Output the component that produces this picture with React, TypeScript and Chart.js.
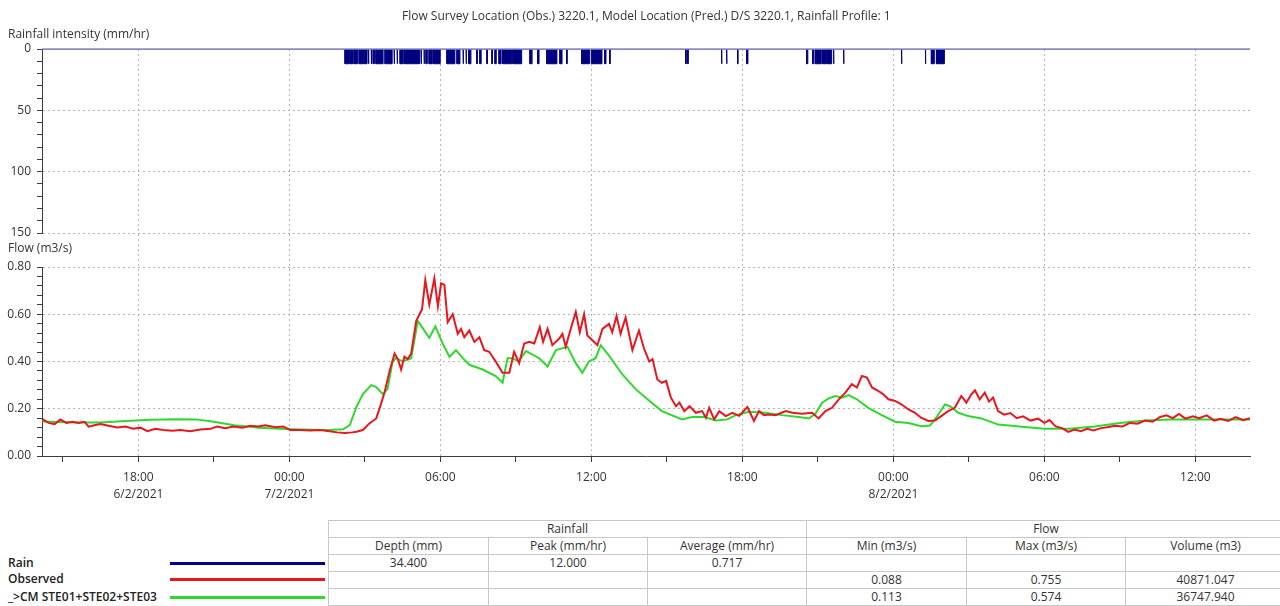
import React, { useEffect, useRef } from "react";
import { Chart, registerables } from "chart.js";

Chart.register(...registerables);
Chart.defaults.font.family = "'Open Sans', sans-serif";
Chart.defaults.font.size = 12;
Chart.defaults.color = "#333";

// Time axis: hours since 6/2/2021 00:00
const xMin = 14.17;
const xMax = 62.17;
const xTickValues = [15, 18, 21, 24, 27, 30, 33, 36, 39, 42, 45, 48, 51, 54, 57, 60];
const xTickLabels: (string | string[])[] = [
  "", ["18:00", "6/2/2021"], "", ["00:00", "7/2/2021"], "", "06:00", "", "12:00",
  "", "18:00", "", ["00:00", "8/2/2021"], "", "06:00", "", "12:00",
];

const rainTickValues = [0, 10, 20, 30, 40, 50, 60, 70, 80, 90, 100, 110, 120, 130, 140, 150];
const rainTickLabels = ["0", "", "", "", "", "50", "", "", "", "", "100", "", "", "", "", "150"];

const flowTickValues = [0, 0.04, 0.08, 0.12, 0.16, 0.2, 0.24, 0.28, 0.32, 0.36, 0.4, 0.44, 0.48, 0.52, 0.56, 0.6, 0.64, 0.68, 0.72, 0.76, 0.8];
const flowTickLabels = ["0.00", "", "", "", "", "0.20", "", "", "", "", "0.40", "", "", "", "", "0.60", "", "", "", "", "0.80"];

// Rainfall: start (hours since 6/2 00:00), duration (minutes), intensity (mm/hr)
const rainStart = [
  26.21, 26.41, 26.57, 26.77, 26.97, 27.13, 27.25, 27.33, 27.44, 27.80,
  28.16, 28.28, 28.40, 28.56, 29.11, 29.23, 29.35, 29.43, 29.55, 29.71,
  30.26, 30.66, 30.90, 31.02, 31.13, 31.45, 31.57, 31.85, 32.05, 32.17,
  32.33, 32.48, 32.88, 33.56, 33.87, 34.23, 34.75, 35.02, 35.62, 36.02,
  36.53, 36.73, 39.75, 39.83, 41.17, 41.37, 41.81, 42.17, 44.55, 44.79,
  44.90, 45.18, 45.38, 45.62, 46.02, 48.32, 49.27, 49.51, 49.71,
];
const rainMinutes = [
  10, 7, 8, 10, 7, 2, 1, 3, 17, 17,
  1, 1, 7, 31, 4, 1, 1, 3, 7, 17,
  19, 7, 1, 1, 5, 1, 3, 1, 1, 3,
  5, 21, 21, 5, 3, 24, 5, 1, 19, 24,
  3, 1, 1, 1, 1, 1, 1, 3, 3, 3,
  14, 10, 10, 1, 1, 1, 1, 7, 19,
];
const rainIntensity = [
  12, 12, 12, 12, 12, 12, 12, 12, 12, 12,
  12, 12, 12, 12, 12, 12, 12, 12, 12, 12,
  12, 12, 12, 12, 12, 12, 12, 12, 12, 12,
  12, 12, 12, 12, 12, 12, 12, 12, 12, 12,
  12, 12, 12, 12, 12, 12, 12, 12, 12, 12,
  12, 12, 12, 12, 12, 12, 12, 12, 12,
];

// Observed flow (m3/s)
const obsHours = [
  14.19, 14.43, 14.67, 14.90, 15.14, 15.38, 15.62, 15.86, 16.02, 16.25,
  16.49, 16.81, 17.17, 17.48, 17.80, 18.08, 18.36, 18.67, 18.99, 19.35,
  19.67, 20.06, 20.46, 20.86, 21.13, 21.45, 21.77, 22.13, 22.44, 22.76,
  23.04, 23.44, 23.75, 24.03, 24.43, 24.83, 25.22, 25.60, 25.90, 26.20,
  26.50, 26.66, 26.92, 27.18, 27.45, 27.60, 27.78, 27.98, 28.18, 28.31,
  28.44, 28.57, 28.70, 28.84, 29.04, 29.27, 29.40, 29.56, 29.76, 29.90,
  30.03, 30.16, 30.29, 30.49, 30.69, 30.82, 30.95, 31.15, 31.35, 31.55,
  31.74, 31.94, 32.20, 32.47, 32.74, 32.93, 33.13, 33.33, 33.53, 33.73,
  33.95, 34.08, 34.26, 34.45, 34.72, 34.85, 34.98, 35.14, 35.38, 35.54,
  35.71, 35.84, 36.04, 36.24, 36.44, 36.70, 36.83, 37.00, 37.16, 37.36,
  37.63, 37.89, 38.09, 38.30, 38.43, 38.62, 38.80, 38.97, 39.16, 39.36,
  39.50, 39.69, 39.90, 40.15, 40.40, 40.55, 40.68, 40.88, 41.08, 41.34,
  41.60, 41.87, 42.20, 42.46, 42.66, 42.86, 43.06, 43.32, 43.72, 43.98,
  44.37, 44.77, 45.03, 45.30, 45.56, 45.83, 46.09, 46.35, 46.55, 46.75,
  46.95, 47.15, 47.41, 47.60, 47.80, 48.07, 48.33, 48.60, 48.86, 49.10,
  49.39, 49.65, 49.90, 50.18, 50.44, 50.70, 50.90, 51.10, 51.24, 51.43,
  51.63, 51.80, 51.96, 52.16, 52.40, 52.65, 52.90, 53.15, 53.45, 53.75,
  54.00, 54.20, 54.45, 54.70, 54.95, 55.20, 55.45, 55.70, 55.95, 56.25,
  56.50, 56.80, 57.10, 57.40, 57.70, 58.00, 58.30, 58.60, 58.85, 59.10,
  59.35, 59.60, 59.90, 60.15, 60.45, 60.75, 61.00, 61.30, 61.60, 61.90,
  62.17,
];
const obsFlow = [
  0.156, 0.140, 0.135, 0.155, 0.140, 0.145, 0.140, 0.145, 0.124, 0.130,
  0.135, 0.128, 0.121, 0.125, 0.115, 0.120, 0.105, 0.115, 0.110, 0.107,
  0.110, 0.105, 0.112, 0.115, 0.125, 0.118, 0.125, 0.120, 0.128, 0.125,
  0.130, 0.122, 0.125, 0.110, 0.110, 0.108, 0.110, 0.105, 0.100, 0.097,
  0.100, 0.103, 0.110, 0.138, 0.159, 0.207, 0.269, 0.359, 0.434, 0.410,
  0.366, 0.420, 0.410, 0.434, 0.572, 0.620, 0.745, 0.641, 0.752, 0.634,
  0.731, 0.724, 0.566, 0.600, 0.517, 0.538, 0.503, 0.531, 0.483, 0.503,
  0.448, 0.441, 0.400, 0.352, 0.352, 0.441, 0.393, 0.476, 0.483, 0.476,
  0.545, 0.483, 0.538, 0.469, 0.497, 0.517, 0.462, 0.524, 0.610, 0.524,
  0.600, 0.510, 0.490, 0.469, 0.538, 0.559, 0.524, 0.593, 0.517, 0.586,
  0.448, 0.531, 0.455, 0.400, 0.410, 0.324, 0.310, 0.318, 0.247, 0.211,
  0.226, 0.190, 0.211, 0.183, 0.190, 0.162, 0.204, 0.155, 0.190, 0.169,
  0.183, 0.170, 0.207, 0.148, 0.190, 0.173, 0.176, 0.173, 0.190, 0.183,
  0.179, 0.183, 0.159, 0.190, 0.204, 0.240, 0.268, 0.304, 0.290, 0.339,
  0.332, 0.290, 0.275, 0.261, 0.240, 0.233, 0.218, 0.197, 0.183, 0.162,
  0.148, 0.150, 0.169, 0.190, 0.204, 0.254, 0.226, 0.261, 0.278, 0.240,
  0.268, 0.230, 0.247, 0.190, 0.175, 0.182, 0.160, 0.168, 0.150, 0.158,
  0.140, 0.152, 0.125, 0.118, 0.102, 0.112, 0.105, 0.115, 0.108, 0.118,
  0.122, 0.128, 0.125, 0.140, 0.137, 0.150, 0.145, 0.165, 0.172, 0.160,
  0.178, 0.158, 0.168, 0.160, 0.172, 0.150, 0.158, 0.148, 0.165, 0.152,
  0.160,
];

// Predicted flow (m3/s), _>CM STE01+STE02+STE03
const predHours = [
  14.19, 15.50, 16.50, 17.50, 18.50, 19.50, 20.30, 21.00, 21.80, 22.80,
  23.80, 24.50, 25.50, 26.13, 26.40, 26.66, 26.92, 27.25, 27.45, 27.71,
  27.90, 28.10, 28.23, 28.50, 28.84, 29.10, 29.56, 29.80, 30.09, 30.36,
  30.62, 30.89, 31.15, 31.68, 32.20, 32.47, 32.67, 32.87, 33.10, 33.40,
  33.93, 34.26, 34.59, 35.05, 35.38, 35.64, 35.90, 36.17, 36.37, 36.70,
  37.23, 37.76, 38.30, 38.80, 39.60, 40.00, 40.50, 40.95, 41.40, 41.74,
  42.26, 42.90, 43.58, 44.24, 44.64, 44.90, 45.17, 45.43, 45.70, 45.96,
  46.22, 46.55, 47.00, 47.54, 48.07, 48.60, 49.10, 49.45, 49.70, 50.05,
  50.25, 50.58, 50.97, 51.50, 52.16, 52.50, 53.00, 54.00, 55.00, 56.00,
  57.00, 58.00, 59.00, 60.00, 61.00, 62.17,
];
const predFlow = [
  0.146, 0.142, 0.142, 0.148, 0.153, 0.156, 0.155, 0.145, 0.130, 0.120,
  0.114, 0.112, 0.110, 0.113, 0.131, 0.207, 0.262, 0.300, 0.292, 0.262,
  0.283, 0.400, 0.414, 0.400, 0.414, 0.572, 0.500, 0.549, 0.476, 0.420,
  0.448, 0.414, 0.386, 0.366, 0.338, 0.310, 0.414, 0.414, 0.400, 0.444,
  0.414, 0.379, 0.448, 0.462, 0.393, 0.352, 0.400, 0.414, 0.469, 0.425,
  0.345, 0.283, 0.234, 0.190, 0.155, 0.165, 0.165, 0.150, 0.155, 0.173,
  0.187, 0.183, 0.173, 0.165, 0.159, 0.179, 0.226, 0.244, 0.254, 0.247,
  0.258, 0.240, 0.204, 0.173, 0.145, 0.140, 0.126, 0.129, 0.162, 0.218,
  0.211, 0.183, 0.169, 0.159, 0.133, 0.130, 0.125, 0.115, 0.115, 0.125,
  0.140, 0.150, 0.155, 0.155, 0.155, 0.155,
];

const tableHeadGroups = ["Rainfall", "Flow"];
const tableHeads = ["Depth (mm)", "Peak (mm/hr)", "Average (mm/hr)", "Min (m3/s)", "Max (m3/s)", "Volume (m3)"];
const legendNames = ["Rain", "Observed", "_>CM STE01+STE02+STE03"];
const legendColors = ["#00008b", "#e8161e", "#2fd82f"];
const tableRows = [
  ["34.400", "12.000", "0.717", "", "", ""],
  ["", "", "", "0.088", "0.755", "40871.047"],
  ["", "", "", "0.113", "0.574", "36747.940"],
];

const GRID = "#b4b4b4";
const AXIS = "#3c3c3c";
const CLEAR = "rgba(0,0,0,0)";

export default function App() {
  const ref = useRef<HTMLCanvasElement>(null);

  useEffect(() => {
    const canvas = ref.current;
    if (!canvas) return;

    const rainPts: { x: number; y: number }[] = [{ x: xMin, y: 0 }];
    rainStart.forEach((s, i) => {
      const e = s + rainMinutes[i] / 60;
      rainPts.push({ x: s, y: 0 }, { x: s, y: rainIntensity[i] }, { x: e, y: rainIntensity[i] }, { x: e, y: 0 });
    });
    rainPts.push({ x: xMax, y: 0 });
    const obsPts = obsHours.map((h, i) => ({ x: h, y: obsFlow[i] }));
    const predPts = predHours.map((h, i) => ({ x: h, y: predFlow[i] }));

    const chart = new Chart(canvas, {
      type: "line",
      data: {
        datasets: [
          {
            label: "RainBase",
            data: [{ x: xMin, y: 0 }, { x: xMax, y: 0 }],
            yAxisID: "yRain",
            borderColor: "#8c8cc8",
            borderWidth: 1.5,
            pointRadius: 0,
            fill: false,
            order: 0,
            clip: { left: 0, right: 0, top: 2, bottom: 0 },
          } as any,
          {
            label: "Rain",
            data: rainPts,
            yAxisID: "yRain",
            borderColor: "#000080",
            backgroundColor: "#000080",
            borderWidth: 1,
            pointRadius: 0,
            fill: "origin",
            order: 1,
          },
          {
            label: "Observed",
            data: obsPts,
            yAxisID: "yFlow",
            borderColor: "#e8161e",
            borderWidth: 2,
            pointRadius: 0,
            fill: false,
            order: 2,
          },
          {
            label: "Predicted",
            data: predPts,
            yAxisID: "yFlow",
            borderColor: "#2fd82f",
            borderWidth: 2,
            pointRadius: 0,
            fill: false,
            order: 3,
          },
        ],
      },
      options: {
        responsive: false,
        maintainAspectRatio: false,
        animation: false,
        layout: { padding: { left: 0, right: 30, top: 49, bottom: 0 } },
        plugins: { legend: { display: false }, tooltip: { enabled: false }, title: { display: false } },
        elements: { line: { tension: 0 } },
        scales: {
          x: {
            type: "linear",
            position: "bottom",
            min: xMin,
            max: xMax,
            afterBuildTicks: (s: any) => { s.ticks = xTickValues.map((v) => ({ value: v })); },
            afterFit: (s: any) => { s.height = 59; },
            ticks: {
              autoSkip: false,
              maxRotation: 0,
              padding: 7,
              color: "#333",
              font: { size: 12, lineHeight: 1.4 },
              callback: (v: any) => { const i = xTickValues.indexOf(Number(v)); return i >= 0 ? xTickLabels[i] : ""; },
            },
            grid: {
              color: (c: any) => { const i = c.tick ? xTickValues.indexOf(c.tick.value) : -1; return i >= 0 && xTickLabels[i] !== "" ? GRID : CLEAR; },
              tickColor: AXIS,
              tickLength: 6,
              lineWidth: 1,
            },
            border: { display: true, color: AXIS, width: 1, dash: [2, 3] },
          },
          yRain: {
            type: "linear",
            position: "left",
            stack: "v",
            stackWeight: 184,
            weight: 3,
            min: 0,
            max: 150,
            reverse: true,
            afterBuildTicks: (s: any) => { s.ticks = rainTickValues.map((v) => ({ value: v })); },
            afterFit: (s: any) => { s.width = 42; },
            ticks: {
              autoSkip: false,
              padding: 6,
              color: "#333",
              callback: (v: any) => { const i = rainTickValues.indexOf(Number(v)); return i >= 0 ? rainTickLabels[i] : ""; },
            },
            grid: {
              color: (c: any) => { const i = c.tick ? rainTickValues.indexOf(c.tick.value) : -1; return i > 0 && rainTickLabels[i] !== "" ? GRID : CLEAR; },
              tickColor: AXIS,
              tickLength: 5,
            },
            border: { display: true, color: AXIS, width: 1, dash: [2, 3] },
          },
          ySpace: {
            type: "linear",
            position: "left",
            stack: "v",
            stackWeight: 34,
            weight: 2,
            afterFit: (s: any) => { s.width = 42; },
            ticks: { display: false },
            grid: { display: false },
            border: { display: false },
          },
          yFlow: {
            type: "linear",
            position: "left",
            stack: "v",
            stackWeight: 189,
            weight: 1,
            min: 0,
            max: 0.8,
            afterBuildTicks: (s: any) => { s.ticks = flowTickValues.map((v) => ({ value: v })); },
            afterFit: (s: any) => { s.width = 42; },
            ticks: {
              autoSkip: false,
              padding: 6,
              color: "#333",
              callback: (v: any) => { const i = flowTickValues.indexOf(Number(v)); return i >= 0 ? flowTickLabels[i] : ""; },
            },
            grid: {
              color: (c: any) => { const i = c.tick ? flowTickValues.indexOf(c.tick.value) : -1; return i > 0 && flowTickLabels[i] !== "" ? GRID : CLEAR; },
              tickColor: AXIS,
              tickLength: 5,
            },
            border: { display: true, color: AXIS, width: 1, dash: [2, 3] },
          },
        },
      } as any,
    });
    return () => chart.destroy();
  }, []);

  const cell: React.CSSProperties = { border: "1px solid #c8c8c8", padding: 0, height: 16, textAlign: "center", whiteSpace: "nowrap", overflow: "hidden" };
  const legendY = [555, 571, 589];

  return (
    <div style={{ position: "absolute", left: 0, top: 0, width: 1280, height: 606, overflow: "hidden", background: "#fff", fontFamily: "'Open Sans', sans-serif", color: "#333" }}>
      <canvas ref={ref} width={1280} height={515} style={{ position: "absolute", left: 0, top: 0, width: 1280, height: 515 }} />
      <div style={{ position: "absolute", left: 402, top: 8, fontSize: 12, lineHeight: "16px", whiteSpace: "nowrap" }}>
        Flow Survey Location (Obs.) 3220.1, Model Location (Pred.) D/S 3220.1, Rainfall Profile: 1
      </div>
      <div style={{ position: "absolute", left: 8, top: 26, fontSize: 12, lineHeight: "16px", whiteSpace: "nowrap" }}>Rainfall intensity (mm/hr)</div>
      <div style={{ position: "absolute", left: 8, top: 240, fontSize: 12, lineHeight: "16px", whiteSpace: "nowrap" }}>Flow (m3/s)</div>

      {legendNames.map((n, i) => (
        <React.Fragment key={n}>
          <div style={{ position: "absolute", left: 8, top: legendY[i], fontSize: 12, lineHeight: "16px", fontWeight: 600, color: "#222", whiteSpace: "nowrap" }}>{n}</div>
          <div style={{ position: "absolute", left: 170, top: legendY[i] + 7, width: 155, height: 3, background: legendColors[i] }} />
        </React.Fragment>
      ))}

      <table style={{ position: "absolute", left: 328, top: 520, borderCollapse: "collapse", tableLayout: "fixed", width: 957, fontSize: 12, lineHeight: "16px", color: "#333" }}>
        <colgroup>
          {[160, 159, 159, 160, 159, 160].map((w, i) => <col key={i} style={{ width: w }} />)}
        </colgroup>
        <tbody>
          <tr>
            <td style={cell} colSpan={3}>{tableHeadGroups[0]}</td>
            <td style={cell} colSpan={3}>{tableHeadGroups[1]}</td>
          </tr>
          <tr>{tableHeads.map((h) => <td key={h} style={cell}>{h}</td>)}</tr>
          {tableRows.map((r, ri) => (
            <tr key={ri}>{r.map((v, ci) => <td key={ci} style={cell}>{v}</td>)}</tr>
          ))}
        </tbody>
      </table>
    </div>
  );
}
